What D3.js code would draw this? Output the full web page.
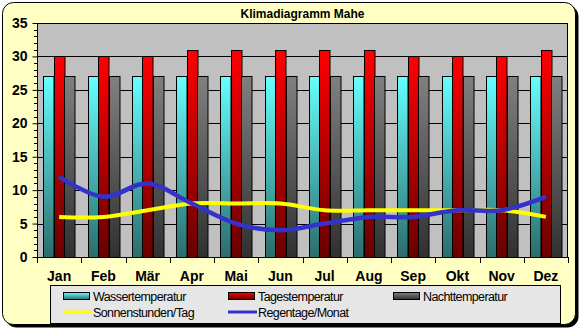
<!DOCTYPE html>
<html><head><meta charset="utf-8">
<script src="https://cdn.jsdelivr.net/npm/d3@7/dist/d3.min.js"></script>
<style>body{margin:0;background:#fff}svg{display:block}</style>
</head><body><svg id="c" width="582" height="330"></svg>
<script>
const months = ["Jan","Feb","Mär","Apr","Mai","Jun","Jul","Aug","Sep","Okt","Nov","Dez"];
const wasser = [27,27,27,27,27,27,27,27,27,27,27,27];
const tages  = [30,30,30,31,31,31,31,31,30,30,30,31];
const nacht  = [27,27,27,27,27,27,27,27,27,27,27,27];
const sonne  = [6,6,7,8,8,8,7,7,7,7,7,6];
const regen  = [12,9,11,8,5,4,5,6,6,7,7,9];
const yTicks = [0,5,10,15,20,25,30,35];

const svg = d3.select("#c");
const font = "'Liberation Sans', Arial, sans-serif";
const L = 37, R = 568, T = 23, B = 257;

const defs = svg.append("defs");
function grad(id, top, bot){
  const g = defs.append("linearGradient").attr("id", id).attr("x1",0).attr("y1",0).attr("x2",0).attr("y2",1);
  g.append("stop").attr("offset","0%").attr("stop-color",top);
  g.append("stop").attr("offset","100%").attr("stop-color",bot);
}
grad("gW","#66FFFF","#2C6C6C");
grad("gT","#FF0000","#680000");
grad("gN","#808080","#303030");

// frame with shadow
svg.append("rect").attr("x",5.5).attr("y",5.5).attr("width",573).attr("height",322).attr("rx",11).attr("fill","#000");
svg.append("rect").attr("x",2.5).attr("y",2.5).attr("width",573).attr("height",322).attr("rx",11)
  .attr("fill","#FFFFC4").attr("stroke","#000").attr("stroke-width",1);

const x = d3.scaleBand().domain(months).range([L,R]).paddingInner(0).paddingOuter(0);
const y = d3.scaleLinear().domain([0,35]).range([B,T]);

// plot bg
svg.append("rect").attr("x",L).attr("y",T).attr("width",R-L).attr("height",B-T).attr("fill","#C0C0C0");
// grid
svg.append("g").selectAll("line").data(yTicks.filter(d=>d>0&&d<35)).join("line")
  .attr("x1",L).attr("x2",R).attr("y1",d=>Math.round(y(d))+0.5).attr("y2",d=>Math.round(y(d))+0.5)
  .attr("stroke","#000").attr("stroke-width",1);

// bars
const sub = d3.scaleBand().domain(["w","t","n"]).range([0,31.5]);
const series = [["w",wasser,"url(#gW)"],["t",tages,"url(#gT)"],["n",nacht,"url(#gN)"]];
const bw = x.bandwidth();
series.forEach(([k,vals,fill])=>{
  svg.append("g").selectAll("rect").data(vals).join("rect")
    .attr("x",(d,i)=>Math.round(x(months[i]) + (bw-31.5)/2 + sub(k))+0.5)
    .attr("y",d=>Math.round(y(d))+0.5)
    .attr("width",sub.bandwidth())
    .attr("height",d=>Math.round(y(0))-Math.round(y(d)))
    .attr("fill",fill).attr("stroke","#000").attr("stroke-width",1);
});

// plot border
svg.append("rect").attr("x",L+0.5).attr("y",T+0.5).attr("width",R-L-1).attr("height",B-T)
  .attr("fill","none").attr("stroke","#000").attr("stroke-width",1);

// lines
const cx = (d,i)=>x(months[i])+bw/2;
const line = d3.line().x(cx).y(d=>y(d)).curve(d3.curveCatmullRom.alpha(0));
svg.append("path").attr("d",line(sonne)).attr("fill","none").attr("stroke","#FFFF00").attr("stroke-width",4);
svg.append("path").attr("d",line(regen)).attr("fill","none").attr("stroke","#3333CC").attr("stroke-width",4.5);

// y axis
const yAxis = d3.axisLeft(y).tickValues(yTicks).tickSize(5).tickPadding(5);
const gy = svg.append("g").attr("transform",`translate(${L+0.5},0)`).call(yAxis);
gy.select(".domain").remove();
gy.selectAll("text").attr("font-family",font).attr("font-size",14).attr("font-weight","bold").attr("fill","#000");
gy.selectAll("line").attr("stroke","#000");
// minor ticks
svg.append("g").selectAll("line").data(d3.range(0,36).filter(d=>d%5!==0)).join("line")
  .attr("x1",L-3).attr("x2",L).attr("y1",d=>Math.round(y(d))+0.5).attr("y2",d=>Math.round(y(d))+0.5)
  .attr("stroke","#000");

// x axis
svg.append("line").attr("x1",L).attr("x2",R).attr("y1",B+0.5).attr("y2",B+0.5).attr("stroke","#000");
svg.append("g").selectAll("line").data(d3.range(0,13)).join("line")
  .attr("x1",i=>Math.round(L+i*bw)+0.5).attr("x2",i=>Math.round(L+i*bw)+0.5)
  .attr("y1",B).attr("y2",B+6).attr("stroke","#000");
svg.append("g").selectAll("text").data(months).join("text")
  .attr("x",d=>x(d)+bw/2).attr("y",281).attr("text-anchor","middle")
  .attr("font-family",font).attr("font-size",14).attr("font-weight","bold").text(d=>d);

// title
svg.append("text").attr("x",(L+R)/2).attr("y",18).attr("text-anchor","middle")
  .attr("font-family",font).attr("font-size",12).attr("font-weight","bold").text("Klimadiagramm Mahe");

// legend
svg.append("rect").attr("x",50.5).attr("y",285.5).attr("width",510).attr("height",38)
  .attr("fill","#E6E6E6").attr("stroke","#000");
const leg = [
  {name:"Wassertemperatur",type:"bar",fill:"url(#gW)",x:63,y:296},
  {name:"Tagestemperatur",type:"bar",fill:"url(#gT)",x:228,y:296},
  {name:"Nachttemperatur",type:"bar",fill:"url(#gN)",x:393,y:296},
  {name:"Sonnenstunden/Tag",type:"line",stroke:"#FFFF00",x:63,y:312},
  {name:"Regentage/Monat",type:"line",stroke:"#3333CC",x:228,y:312}
];
leg.forEach(e=>{
  if(e.type==="bar"){
    svg.append("rect").attr("x",e.x+0.5).attr("y",e.y-3.5).attr("width",26).attr("height",7)
      .attr("fill",e.fill).attr("stroke","#000");
  } else {
    svg.append("line").attr("x1",e.x).attr("x2",e.x+29).attr("y1",e.y).attr("y2",e.y)
      .attr("stroke",e.stroke).attr("stroke-width",3);
  }
  svg.append("text").attr("x",e.x+30).attr("y",e.y+4.5).attr("font-family",font).attr("font-size",12.5)
    .attr("letter-spacing","-0.6").attr("fill","#000").text(e.name);
});
</script></body></html>
